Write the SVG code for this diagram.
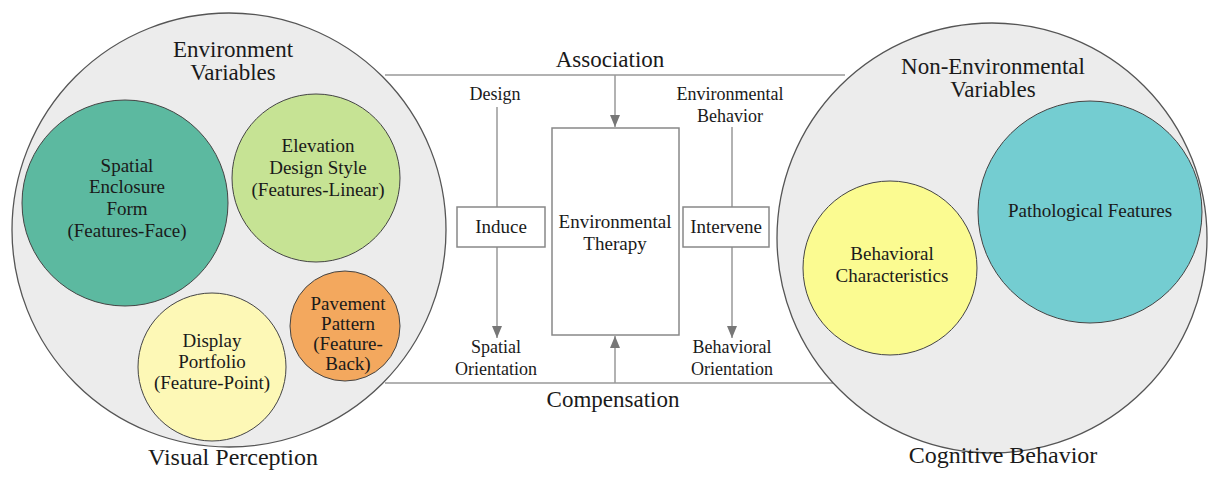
<svg xmlns="http://www.w3.org/2000/svg" width="1211" height="479" viewBox="0 0 1211 479" font-family="Times New Roman">
<defs>
<marker id="ah" viewBox="0 0 12 10" refX="12" refY="5" markerWidth="12" markerHeight="10" markerUnits="userSpaceOnUse" orient="auto">
<path d="M0,0 L12,5 L0,10 z" fill="#777"/>
</marker>
</defs>
<rect width="1211" height="479" fill="#fff"/>
<g id="connectors" stroke="#999" stroke-width="1.5" fill="none">
<line x1="385" y1="75" x2="845" y2="75"/>
<line x1="385" y1="383" x2="845" y2="383"/>
<line x1="615" y1="75" x2="615" y2="127" marker-end="url(#ah)"/>
<line x1="615" y1="383" x2="615" y2="336" marker-end="url(#ah)"/>
<line x1="497" y1="107" x2="497" y2="207"/>
<line x1="497" y1="247" x2="497" y2="338" marker-end="url(#ah)"/>
<line x1="732" y1="127" x2="732" y2="207"/>
<line x1="732" y1="247" x2="732" y2="338" marker-end="url(#ah)"/>
</g>
<g id="env-variables">
<circle cx="229" cy="230" r="217" fill="#ececec" stroke="#555" stroke-width="1.3"/>
<text font-family="Times New Roman" font-size="23" text-anchor="middle" fill="#1a1a1a" x="233" y="57">Environment</text>
<text font-family="Times New Roman" font-size="23" text-anchor="middle" fill="#1a1a1a" x="233" y="80">Variables</text>
</g>
<g id="spatial-enclosure">
<circle cx="125" cy="203" r="103" fill="#5cb9a0" stroke="#444"/>
<text font-family="Times New Roman" font-size="19" text-anchor="middle" fill="#1a1a1a" x="127" y="172">Spatial</text>
<text font-family="Times New Roman" font-size="19" text-anchor="middle" fill="#1a1a1a" x="127" y="193">Enclosure</text>
<text font-family="Times New Roman" font-size="19" text-anchor="middle" fill="#1a1a1a" x="127" y="215">Form</text>
<text font-family="Times New Roman" font-size="19" text-anchor="middle" fill="#1a1a1a" x="127" y="237">(Features-Face)</text>
</g>
<g id="elevation">
<circle cx="316" cy="178" r="84" fill="#c6e394" stroke="#444"/>
<text font-family="Times New Roman" font-size="19" text-anchor="middle" fill="#1a1a1a" x="318" y="152">Elevation</text>
<text font-family="Times New Roman" font-size="19" text-anchor="middle" fill="#1a1a1a" x="318" y="174">Design Style</text>
<text font-family="Times New Roman" font-size="19" text-anchor="middle" fill="#1a1a1a" x="318" y="196">(Features-Linear)</text>
</g>
<g id="display">
<circle cx="212" cy="367" r="74" fill="#fdf8b6" stroke="#444"/>
<text font-family="Times New Roman" font-size="19" text-anchor="middle" fill="#1a1a1a" x="212" y="347">Display</text>
<text font-family="Times New Roman" font-size="19" text-anchor="middle" fill="#1a1a1a" x="212" y="368">Portfolio</text>
<text font-family="Times New Roman" font-size="19" text-anchor="middle" fill="#1a1a1a" x="212" y="389">(Feature-Point)</text>
</g>
<g id="pavement">
<circle cx="345" cy="326" r="55" fill="#f3a85e" stroke="#444"/>
<text font-family="Times New Roman" font-size="19" text-anchor="middle" fill="#1a1a1a" x="348" y="310">Pavement</text>
<text font-family="Times New Roman" font-size="19" text-anchor="middle" fill="#1a1a1a" x="348" y="330">Pattern</text>
<text font-family="Times New Roman" font-size="19" text-anchor="middle" fill="#1a1a1a" x="348" y="350">(Feature-</text>
<text font-family="Times New Roman" font-size="19" text-anchor="middle" fill="#1a1a1a" x="348" y="370">Back)</text>
</g>
<text font-family="Times New Roman" font-size="24" text-anchor="middle" fill="#1a1a1a" x="233" y="465">Visual Perception</text>
<g id="non-env-variables">
<circle cx="992" cy="238" r="215" fill="#ececec" stroke="#555" stroke-width="1.3"/>
<text font-family="Times New Roman" font-size="23" text-anchor="middle" fill="#1a1a1a" x="993" y="74">Non-Environmental</text>
<text font-family="Times New Roman" font-size="23" text-anchor="middle" fill="#1a1a1a" x="993" y="97">Variables</text>
</g>
<g id="behavioral-characteristics">
<circle cx="890" cy="268" r="87" fill="#fbfb91" stroke="#444"/>
<text font-family="Times New Roman" font-size="19" text-anchor="middle" fill="#1a1a1a" x="892" y="260">Behavioral</text>
<text font-family="Times New Roman" font-size="19" text-anchor="middle" fill="#1a1a1a" x="892" y="282">Characteristics</text>
</g>
<g id="pathological">
<ellipse cx="1090" cy="212" rx="112" ry="111" fill="#74cdd1" stroke="#444"/>
<text font-family="Times New Roman" font-size="19" text-anchor="middle" fill="#1a1a1a" x="1090" y="217">Pathological Features</text>
</g>
<text font-family="Times New Roman" font-size="24" text-anchor="middle" fill="#1a1a1a" x="1003" y="463">Cognitive Behavior</text>
<g id="association"><text font-family="Times New Roman" font-size="23" text-anchor="middle" fill="#1a1a1a" x="610" y="67">Association</text></g>
<g id="compensation"><text font-family="Times New Roman" font-size="23" text-anchor="middle" fill="#1a1a1a" x="613" y="407">Compensation</text></g>
<g id="therapy">
<rect x="552" y="128" width="127" height="207" fill="#fff" stroke="#888" stroke-width="1.5"/>
<text font-family="Times New Roman" font-size="19" text-anchor="middle" fill="#1a1a1a" x="615" y="228">Environmental</text>
<text font-family="Times New Roman" font-size="19" text-anchor="middle" fill="#1a1a1a" x="615" y="250">Therapy</text>
</g>
<g id="induce">
<rect x="457" y="207" width="88" height="40" fill="#fff" stroke="#888" stroke-width="1.5"/>
<text font-family="Times New Roman" font-size="19" text-anchor="middle" fill="#1a1a1a" x="501" y="233">Induce</text>
</g>
<g id="intervene">
<rect x="683" y="207" width="86" height="40" fill="#fff" stroke="#888" stroke-width="1.5"/>
<text font-family="Times New Roman" font-size="19" text-anchor="middle" fill="#1a1a1a" x="726" y="233">Intervene</text>
</g>
<g id="labels">
<text font-family="Times New Roman" font-size="18" text-anchor="middle" fill="#1a1a1a" x="495" y="100">Design</text>
<text font-family="Times New Roman" font-size="18" text-anchor="middle" fill="#1a1a1a" x="730" y="100">Environmental</text>
<text font-family="Times New Roman" font-size="18" text-anchor="middle" fill="#1a1a1a" x="730" y="122">Behavior</text>
<text font-family="Times New Roman" font-size="18" text-anchor="middle" fill="#1a1a1a" x="496" y="353">Spatial</text>
<text font-family="Times New Roman" font-size="18" text-anchor="middle" fill="#1a1a1a" x="496" y="375">Orientation</text>
<text font-family="Times New Roman" font-size="18" text-anchor="middle" fill="#1a1a1a" x="732" y="353">Behavioral</text>
<text font-family="Times New Roman" font-size="18" text-anchor="middle" fill="#1a1a1a" x="732" y="375">Orientation</text>
</g>
</svg>
